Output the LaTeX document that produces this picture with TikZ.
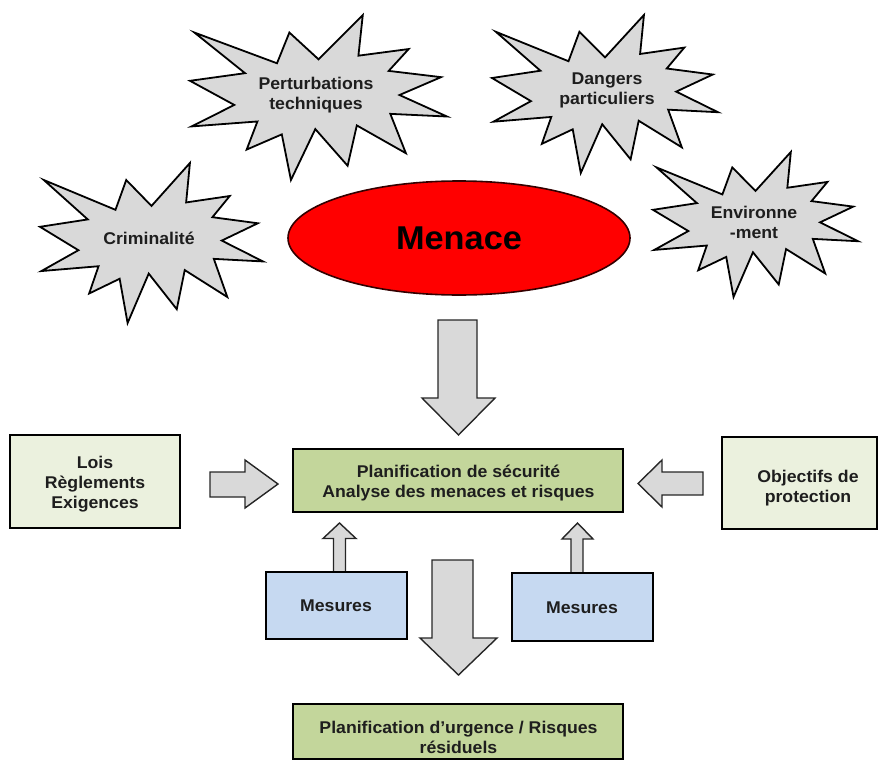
\documentclass[tikz,border=0pt]{standalone}
\usepackage{fontspec}
\setmainfont[FakeStretch=1.04]{Liberation Sans}
\usetikzlibrary{shapes.geometric}
\definecolor{burstgray}{HTML}{D9D9D9}
\definecolor{arrowgray}{HTML}{D9D9D9}
\definecolor{boxgreen}{HTML}{C3D69B}
\definecolor{boxpale}{HTML}{EBF1DE}
\definecolor{boxblue}{HTML}{C6D9F1}
\definecolor{menacered}{HTML}{FF0000}
\definecolor{txt}{HTML}{1E1E1E}
\tikzset{
  burst/.style={draw=black, line width=1.8pt, fill=burstgray, line join=miter},
  barrow/.style={draw=black!85, line width=1.4pt, fill=arrowgray, line join=miter},
  lbl/.style={text=txt, font=\bfseries\fontsize{17}{20}\selectfont, align=center, inner sep=0pt},
  box/.style={draw=black, line width=1.8pt, inner sep=0pt, anchor=center},
}
\newcommand\mystarburst[4]{%
  \begin{scope}[shift={(#1,#2)}, xscale=#3, yscale=#4]
    \draw[burst] (0.5,0.2685) -- (0.6723,0) -- (0.6553,0.2465) -- (0.8509,0.2063)
      -- (0.7732,0.3387) -- (0.9767,0.3767) -- (0.8151,0.4850) -- (1,0.6153)
      -- (0.7795,0.5992) -- (0.8400,0.8377) -- (0.6491,0.6693) -- (0.6133,0.9137)
      -- (0.4876,0.6914) -- (0.3928,1) -- (0.3572,0.7235) -- (0.2205,0.8156)
      -- (0.2624,0.6452) -- (0.00625,0.6753) -- (0.1723,0.5451) -- (0,0.3988)
      -- (0.2142,0.3526) -- (0.0171,0.1063) -- (0.3385,0.2926) -- (0.3867,0.1063)
      -- cycle;
  \end{scope}}
\begin{document}
\begin{tikzpicture}[x=1pt,y=-1pt]
\useasboundingbox (0,0) rectangle (880,760);

% starbursts
\mystarburst{190}{15}{257}{165}
\mystarburst{40}{163}{223}{160}
\mystarburst{492}{15}{226}{158}
\mystarburst{653}{152}{205}{145}
\node[lbl] (pert) at (316,95) {Perturbations\\techniques};
\node[lbl] (crim) at (149,238) {Criminalité};
\node[lbl] (dang) at (607,90) {Dangers\\particuliers};
\node[lbl] (envi) at (754,222) {Environne\\-ment};

% Menace
\node[ellipse, draw=black!80!red, line width=1.6pt, fill=menacered,
      minimum width=342pt, minimum height=114pt, inner sep=0pt,
      text=black, font=\bfseries\fontsize{33}{36}\selectfont] (menace) at (459,238) {Menace};

% block arrows
\draw[barrow] (438,320) -- (477,320) -- (477,398) -- (495,398) -- (458.5,435)
  -- (422,398) -- (438,398) -- cycle;
\draw[barrow] (432,560) -- (473,560) -- (473,638) -- (497,638) -- (458.5,675)
  -- (420,638) -- (432,638) -- cycle;
\draw[barrow] (210,472) -- (245,472) -- (245,460) -- (278,484) -- (245,508)
  -- (245,497) -- (210,497) -- cycle;
\draw[barrow] (703,472) -- (662,472) -- (662,460) -- (638,483.5) -- (662,507)
  -- (662,495) -- (703,495) -- cycle;
\draw[barrow] (333.5,572) -- (333.5,538.5) -- (323,538.5) -- (339.5,523) -- (356,538.5)
  -- (345.5,538.5) -- (345.5,572) -- cycle;
\draw[barrow] (571,573) -- (571,539) -- (562,539) -- (577.5,523) -- (593,539)
  -- (583,539) -- (583,573) -- cycle;

% boxes
\node[box, fill=boxpale, minimum width=170pt, minimum height=93pt] (lois) at (95,481.5) {};
\node[lbl] (loist) at (95,484) {Lois\\Règlements\\Exigences};

\node[box, fill=boxgreen, minimum width=330pt, minimum height=63pt] (plan) at (458,480.5) {};
\node[lbl] (plant) at (458.5,483) {Planification de sécurité\\Analyse des menaces et risques};

\node[box, fill=boxpale, minimum width=155pt, minimum height=92pt] (obj) at (799.5,483) {};
\node[lbl] (objt) at (808,488) {Objectifs de\\protection};

\node[box, fill=boxblue, minimum width=141pt, minimum height=67pt] (mes1) at (336.5,605.5) {};
\node[lbl] (mes1t) at (336,606) {Mesures};

\node[box, fill=boxblue, minimum width=141pt, minimum height=68pt] (mes2) at (582.5,607) {};
\node[lbl] (mes2t) at (582,608) {Mesures};

\node[box, fill=boxgreen, minimum width=330pt, minimum height=55pt] (urg) at (458,731.5) {};
\node[lbl] (urgt) at (458.5,737) {Planification d’urgence / Risques\\résiduels};
\end{tikzpicture}
\end{document}
